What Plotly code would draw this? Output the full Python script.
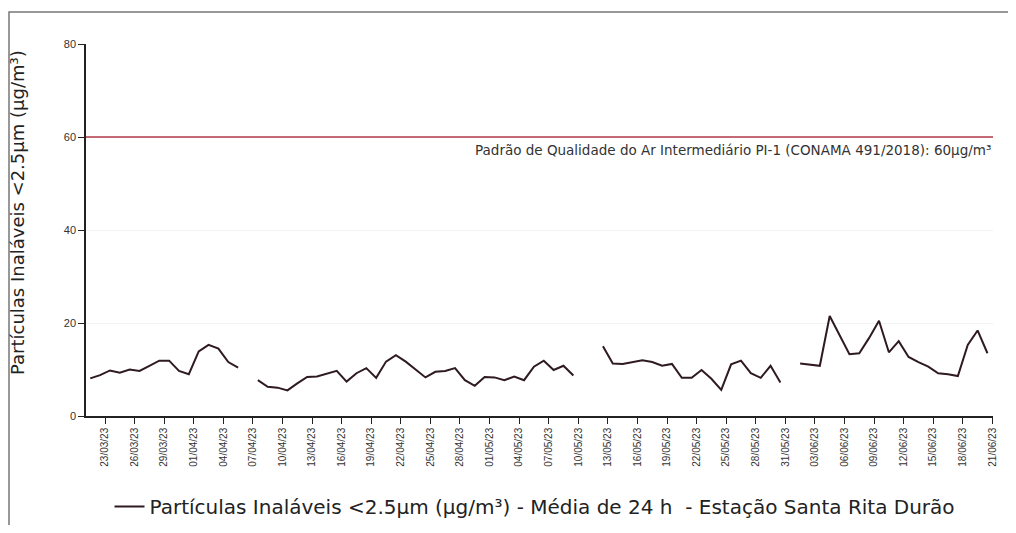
import pandas as pd
import plotly.graph_objects as go

# Daily means (µg/m³), starting 22/03/2023; None = no data
start_date = "2023-03-22"
values = [
    8.1, 8.8, 9.8, 9.3, 10.0, 9.7, 10.8, 11.9, 11.9, 9.7, 9.0, 13.9, 15.3, 14.5, 11.6, 10.4,
    None,
    7.7, 6.3, 6.1, 5.5, 7.0, 8.4, 8.5, 9.1, 9.7, 7.4, 9.2, 10.3, 8.2, 11.7, 13.1,
    11.7, 10.0, 8.3, 9.5, 9.7, 10.3, 7.7, 6.5, 8.4, 8.3, 7.7, 8.5, 7.7, 10.6, 11.9, 9.9, 10.8, 8.7,
    None, None,
    15.0, 11.3, 11.2, 11.6, 12.0, 11.6, 10.8, 11.2, 8.2, 8.2, 9.9, 8.0, 5.6, 11.1, 11.9, 9.2, 8.2, 10.8, 7.2,
    None,
    11.3, 11.1, 10.8, 21.5, 17.5, 13.3, 13.5, 16.8, 20.5, 13.7, 16.1, 12.7, 11.6, 10.6, 9.2, 9.0, 8.6, 15.3, 18.4, 13.5,
]
dates = pd.date_range(start_date, periods=len(values), freq="D")

tick_labels = [
    "23/03/23", "26/03/23", "29/03/23", "01/04/23", "04/04/23", "07/04/23", "10/04/23",
    "13/04/23", "16/04/23", "19/04/23", "22/04/23", "25/04/23", "28/04/23", "01/05/23",
    "04/05/23", "07/05/23", "10/05/23", "13/05/23", "16/05/23", "19/05/23", "22/05/23",
    "25/05/23", "28/05/23", "31/05/23", "03/06/23", "06/06/23", "09/06/23", "12/06/23",
    "15/06/23", "18/06/23", "21/06/23",
]
tick_vals = [pd.to_datetime(t, format="%d/%m/%y") + pd.Timedelta(hours=12) for t in tick_labels]
y_ticks = [0, 20, 40, 60, 80]

standard_value = 60
standard_label = "Padrão de Qualidade do Ar Intermediário PI-1 (CONAMA 491/2018): 60µg/m³"
series_name = "Partículas Inaláveis <2.5µm (µg/m³) - Média de 24 h  - Estação Santa Rita Durão"
y_title = "Partículas Inaláveis <2.5µm (µg/m³)"

x_range = [pd.Timestamp("2023-03-21 13:40"), pd.Timestamp("2023-06-21 13:30")]

# page body has an 8px margin; figure sized to fit the 1016x533 window
OFF = 8
W, H = 1000, 517
L, R, T, B = 86 - OFF, 15, 44 - OFF, 109
pw, ph = W - L - R, H - T - B
bottom = H - B  # figure y of plot bottom


def px_x(sx):
    return (sx - OFF - L) / pw


def px_y(sy):
    return (bottom - (sy - OFF)) / ph


fig = go.Figure()
fig.add_trace(go.Scatter(
    x=dates, y=values, mode="lines", name=series_name,
    line=dict(color="#2e1a20", width=2), connectgaps=False,
))
fig.add_trace(go.Scatter(
    x=x_range, y=[standard_value, standard_value], mode="lines",
    line=dict(color="#b03a48", width=1.5), showlegend=False, hoverinfo="skip",
))
fig.add_annotation(
    x=1.0, xref="paper", y=standard_value, yref="y", yshift=-13,
    text=standard_label, showarrow=False, xanchor="right",
    font=dict(family="DejaVu Sans", size=13.5, color="#333"),
)
fig.add_annotation(
    x=px_x(17), xref="paper", y=px_y(213), yref="paper",
    text=y_title, showarrow=False, textangle=-90, xanchor="center", yanchor="middle",
    font=dict(family="DejaVu Sans", size=18, color="#222"),
)
fig.add_shape(
    type="rect", xref="paper", yref="paper",
    x0=px_x(9), x1=px_x(1060), y0=px_y(580), y1=px_y(12),
    line=dict(color="#777", width=1.5), layer="below",
)

fig.update_layout(
    width=W, height=H,
    margin=dict(l=L, r=R, t=T, b=B, autoexpand=False),
    paper_bgcolor="white", plot_bgcolor="white",
    font=dict(family="Liberation Sans, Arial", color="#333"),
    showlegend=True,
    legend=dict(orientation="h", x=px_x(535), xanchor="center", y=px_y(487),
                yanchor="top", font=dict(family="DejaVu Sans", size=20, color="#222"),
                itemwidth=30),
)
fig.update_xaxes(
    range=x_range, tickvals=tick_vals, ticktext=tick_labels, tickangle=-90,
    showline=True, linecolor="#222", linewidth=1.5, ticks="outside", ticklen=6,
    tickcolor="#222", showgrid=False, zeroline=False, automargin=False,
    tickfont=dict(size=10, color="#333"),
)
fig.update_yaxes(
    range=[0, 80], tickvals=y_ticks, showline=True, linecolor="#222",
    linewidth=1.5, ticks="outside", ticklen=6, tickcolor="#222",
    showgrid=True, gridcolor="#f3f3f3", zeroline=False, automargin=False,
    tickfont=dict(size=11, color="#333"),
)

fig.write_html("out.html")
